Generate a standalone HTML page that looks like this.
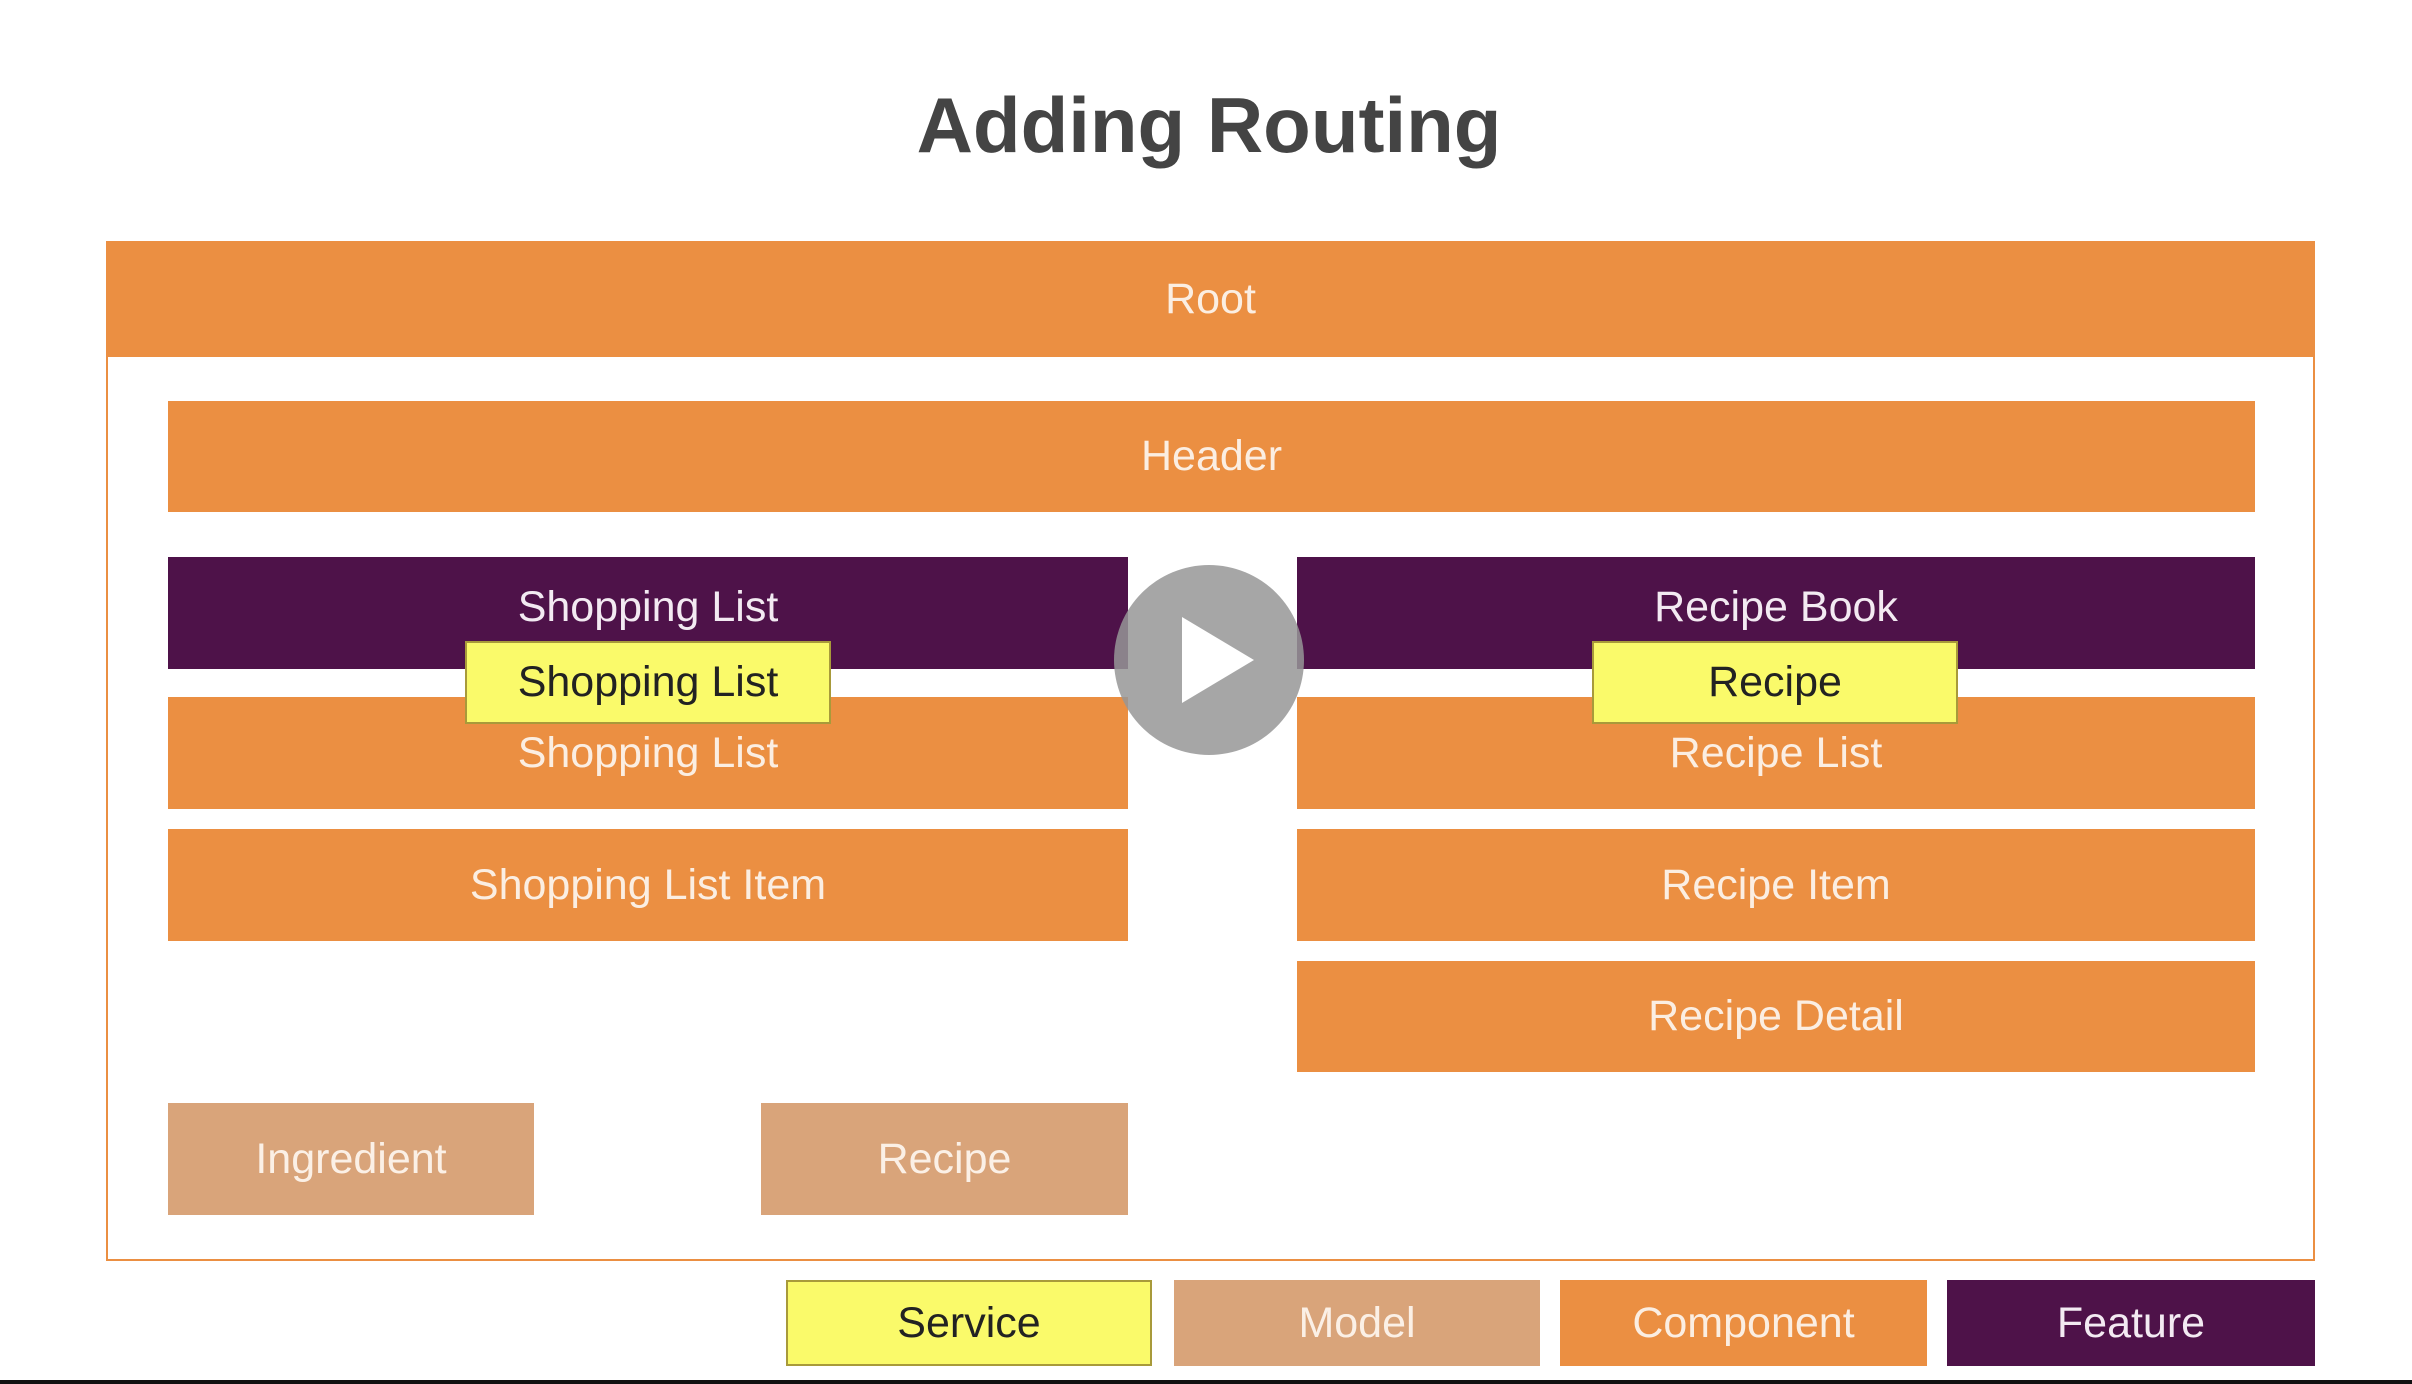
<!DOCTYPE html>
<html><head><meta charset="utf-8"><style>
html,body{margin:0;padding:0;background:#fff;}
body{width:2412px;height:1384px;position:relative;overflow:hidden;font-family:"Liberation Sans","DejaVu Sans",sans-serif;}
.b{position:absolute;display:flex;align-items:center;justify-content:center;color:#fbeee2;font-size:43px;box-sizing:border-box;}
.o{background:#eb8f42;}
.p{background:#4e1249;color:#f3eaf2;}
.t{background:#d9a47a;color:#fbf0e6;}
.y{background:#fafa6a;color:#222;border:2px solid #a89a3a;}
</style></head><body>
<div style="position:absolute;left:0;top:80px;width:2418px;text-align:center;font-size:78px;font-weight:bold;color:#444;">Adding Routing</div>
<div style="position:absolute;left:106px;top:241px;width:2209px;height:1020px;border:2px solid #eb8f42;box-sizing:border-box;"></div>
<div class="b o" style="left:106px;top:241px;width:2209px;height:116px;">Root</div>
<div class="b o" style="left:168px;top:401px;width:2087px;height:111px;">Header</div>
<div class="b p" style="left:168px;top:557px;width:960px;height:112px;padding-bottom:12px;">Shopping List</div>
<div class="b p" style="left:1297px;top:557px;width:958px;height:112px;padding-bottom:12px;">Recipe Book</div>
<div class="b o" style="left:168px;top:697px;width:960px;height:112px;padding-top:0;">Shopping List</div>
<div class="b o" style="left:1297px;top:697px;width:958px;height:112px;">Recipe List</div>
<div class="b y" style="left:465px;top:641px;width:366px;height:83px;">Shopping List</div>
<div class="b y" style="left:1592px;top:641px;width:366px;height:83px;">Recipe</div>
<div class="b o" style="left:168px;top:829px;width:960px;height:112px;">Shopping List Item</div>
<div class="b o" style="left:1297px;top:829px;width:958px;height:112px;">Recipe Item</div>
<div class="b o" style="left:1297px;top:961px;width:958px;height:111px;">Recipe Detail</div>
<div class="b t" style="left:168px;top:1103px;width:366px;height:112px;">Ingredient</div>
<div class="b t" style="left:761px;top:1103px;width:367px;height:112px;">Recipe</div>
<div class="b y" style="left:786px;top:1280px;width:366px;height:86px;">Service</div>
<div class="b t" style="left:1174px;top:1280px;width:366px;height:86px;">Model</div>
<div class="b o" style="left:1560px;top:1280px;width:367px;height:86px;">Component</div>
<div class="b p" style="left:1947px;top:1280px;width:368px;height:86px;">Feature</div>
<div style="position:absolute;left:0;top:1380px;width:2412px;height:4px;background:#111;"></div>
<svg style="position:absolute;left:1114px;top:565px;" width="190" height="190">
<circle cx="95" cy="95" r="95" fill="rgba(150,150,150,0.85)"/>
<polygon points="68,52 68,138 140,95" fill="#fff"/>
</svg>
</body></html>
